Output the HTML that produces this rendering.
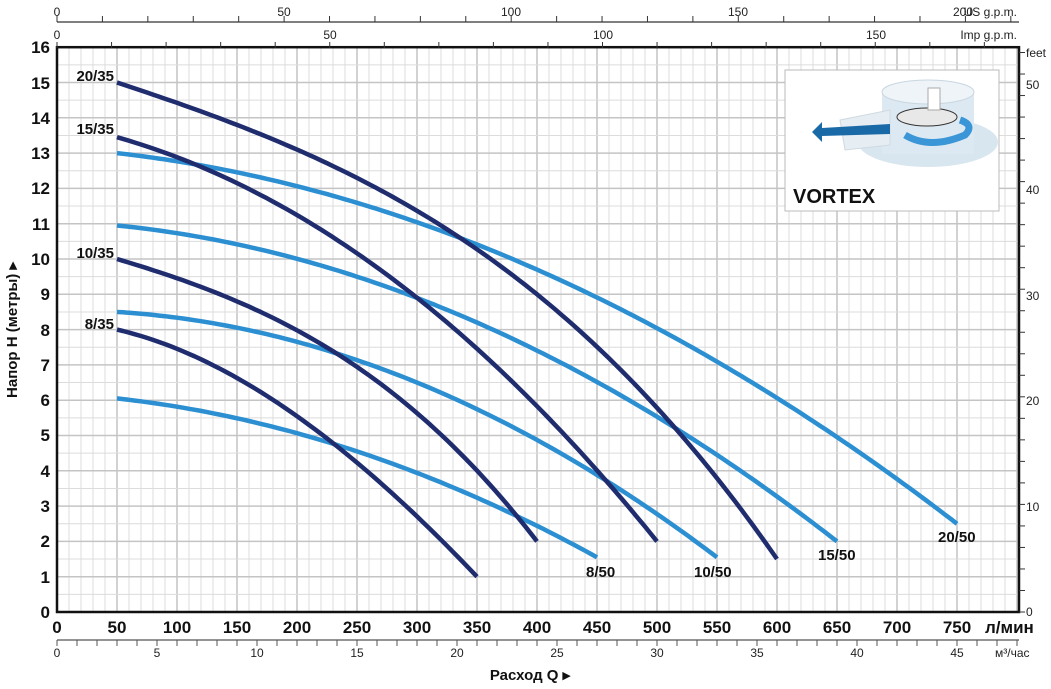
<!DOCTYPE html>
<html><head><meta charset="utf-8"><style>
body{margin:0;background:#fff;width:1051px;height:689px;overflow:hidden;font-family:"Liberation Sans",sans-serif}
svg{position:absolute;left:0;top:0}
.b{font-weight:bold;font-size:17px;fill:#111}
.s{font-size:12px;fill:#222}
.y{font-weight:bold;font-size:17px;fill:#111}
</style></head><body>
<svg id="g" width="1051" height="689" viewBox="0 0 1051 689">
<g id="grid"></g>
<g id="curves"></g>
<rect x="785" y="70" width="214" height="141" fill="#fff" stroke="#bbb"/>
<g>
<ellipse cx="928" cy="142" rx="70" ry="25" fill="#d8e6f0"/>
<rect x="882" y="92" width="92" height="62" fill="#dde9f2"/>
<ellipse cx="928" cy="92" rx="46" ry="12" fill="#eef4f8" stroke="#c8d6e0"/>
<path d="M840 120 L890 110 L890 145 L845 150 Z" fill="#e6eef4" stroke="#cfd9e0"/>
<ellipse cx="927" cy="117" rx="30" ry="9" fill="#e8e8e8" stroke="#333"/>
<rect x="928" y="88" width="12" height="22" fill="#fff" stroke="#aaa"/>
<path d="M905 135 Q930 150 965 135 Q975 125 960 120" fill="none" stroke="#3a96d6" stroke-width="7"/>
<path d="M812 132 L822 122 L822 128 L890 124 L890 134 L822 136 L822 142 Z" fill="#1b6aa8"/>
</g>
<text x="793" y="203" font-weight="bold" font-size="20" fill="#111">VORTEX</text>
<g class="y" text-anchor="end">
<text x="50" y="618">0</text><text x="50" y="583">1</text><text x="50" y="547">2</text><text x="50" y="512">3</text><text x="50" y="477">4</text><text x="50" y="441">5</text><text x="50" y="406">6</text><text x="50" y="371">7</text><text x="50" y="336">8</text><text x="50" y="300">9</text><text x="50" y="265">10</text><text x="50" y="230">11</text><text x="50" y="194">12</text><text x="50" y="159">13</text><text x="50" y="124">14</text><text x="50" y="89">15</text><text x="50" y="53">16</text>
</g>
<g class="s">
<text x="1026" y="616">0</text><text x="1026" y="511">10</text><text x="1026" y="405">20</text><text x="1026" y="300">30</text><text x="1026" y="194">40</text><text x="1026" y="89">50</text><text x="1026" y="57">feet</text>
</g>
<g class="b" text-anchor="middle">
<text x="57" y="633">0</text><text x="117" y="633">50</text><text x="177" y="633">100</text><text x="237" y="633">150</text><text x="297" y="633">200</text><text x="357" y="633">250</text><text x="417" y="633">300</text><text x="477" y="633">350</text><text x="537" y="633">400</text><text x="597" y="633">450</text><text x="657" y="633">500</text><text x="717" y="633">550</text><text x="777" y="633">600</text><text x="837" y="633">650</text><text x="897" y="633">700</text><text x="957" y="633">750</text>
</g>
<text x="985" y="633" class="b" font-size="18">л/мин</text>
<g class="s" text-anchor="middle">
<text x="57" y="657">0</text><text x="157" y="657">5</text><text x="257" y="657">10</text><text x="357" y="657">15</text><text x="457" y="657">20</text><text x="557" y="657">25</text><text x="657" y="657">30</text><text x="757" y="657">35</text><text x="857" y="657">40</text><text x="957" y="657">45</text>
</g>
<text x="995" y="657" class="s">м³/час</text>
<g class="s" text-anchor="middle">
<text x="57" y="16">0</text><text x="284" y="16">50</text><text x="511" y="16">100</text><text x="738" y="16">150</text><text x="963" y="16">200</text>
<text x="57" y="39">0</text><text x="330" y="39">50</text><text x="603" y="39">100</text><text x="876" y="39">150</text>
</g>
<text x="1017" y="16" class="s" text-anchor="end">US g.p.m.</text>
<text x="1017" y="39" class="s" text-anchor="end">Imp g.p.m.</text>
<text x="530" y="680" font-weight="bold" font-size="15" fill="#111" text-anchor="middle">Расход Q ▸</text>
<text transform="translate(17,330) rotate(-90)" font-weight="bold" font-size="15" fill="#111" text-anchor="middle">Напор Н (метры) ▸</text>
<g font-weight="bold" font-size="15" fill="#111">
<text x="114" y="81" text-anchor="end">20/35</text>
<text x="114" y="134" text-anchor="end">15/35</text>
<text x="114" y="258" text-anchor="end">10/35</text>
<text x="114" y="329" text-anchor="end">8/35</text>
<text x="586" y="577">8/50</text>
<text x="694" y="577">10/50</text>
<text x="818" y="560">15/50</text>
<text x="938" y="542">20/50</text>
</g>
</svg>
<script>
const X=q=>57+1.2*q, Y=h=>612-35.3*h, NS="http://www.w3.org/2000/svg";
function el(p,t,a){const e=document.createElementNS(NS,t);for(const k in a)e.setAttribute(k,a[k]);p.appendChild(e);return e}
const G=document.getElementById('grid');
for(let q=10;q<=800;q+=10){el(G,'line',{x1:X(q),x2:X(q),y1:48,y2:612,stroke:q%50?'#dcdcdc':'#c4c4c4','stroke-width':q%50?1:1.5})}
for(let h=0.5;h<16;h+=0.5){el(G,'line',{x1:57,x2:1019,y1:Y(h),y2:Y(h),stroke:h%1?'#dcdcdc':'#c4c4c4','stroke-width':h%1?1:1.5})}
el(G,'rect',{x:57,y:Y(16),width:962,height:612-Y(16),fill:'none',stroke:'#111','stroke-width':2.5});
el(G,'line',{x1:57,x2:1019,y1:22,y2:22,stroke:'#333','stroke-width':1.2});
for(let g=0;g*4.542<=962;g+=10)el(G,'line',{x1:57+g*4.542,x2:57+g*4.542,y1:16,y2:22,stroke:'#333'});
for(let g=0;g*5.455<=962;g+=10)el(G,'line',{x1:57+g*5.455,x2:57+g*5.455,y1:42,y2:48,stroke:'#333'});
el(G,'line',{x1:57,x2:1019,y1:640,y2:640,stroke:'#555','stroke-width':1.2});
for(let m=0;m<=48;m++)el(G,'line',{x1:57+20*m,x2:57+20*m,y1:640,y2:646,stroke:'#555'});
for(let f=0;f<=52;f+=2){const y=612-f*0.3048*35.3;el(G,'line',{x1:1019,x2:1025,y1:y,y2:y,stroke:'#333'})}
const C=document.getElementById('curves');
function poly(p,col){
const f=x=>{let s=0;for(let i=0;i<p.length;i++){let t=p[i][1];for(let j=0;j<p.length;j++)if(j!=i)t*=(x-p[j][0])/(p[i][0]-p[j][0]);s+=t}return s};
const x0=p[0][0],x2=p[p.length-1][0];
let pts=[];for(let q=x0;q<=x2+0.01;q+=5)pts.push(X(q).toFixed(1)+','+Y(f(q)).toFixed(1));
el(C,'polyline',{points:pts.join(' '),fill:'none',stroke:col,'stroke-width':4.5,'stroke-linejoin':'round'})}
const L='#2b8fd1',D='#1f2c6e';
poly([[50,13],[400,9.7],[750,2.5]],L);
poly([[50,10.95],[350,8.2],[650,2.0]],L);
poly([[50,8.5],[300,6.5],[550,1.55]],L);
poly([[50,6.05],[250,4.55],[450,1.55]],L);
poly([[50,15],[200,13.1],[400,9.0],[600,1.5]],D);
poly([[50,13.45],[150,12.15],[311,8.6],[500,2.0]],D);
poly([[50,10],[150,8.8],[244,7.08],[400,2.0]],D);
poly([[50,8],[150,6.63],[232,4.73],[350,1.0]],D);
</script>
</body></html>
